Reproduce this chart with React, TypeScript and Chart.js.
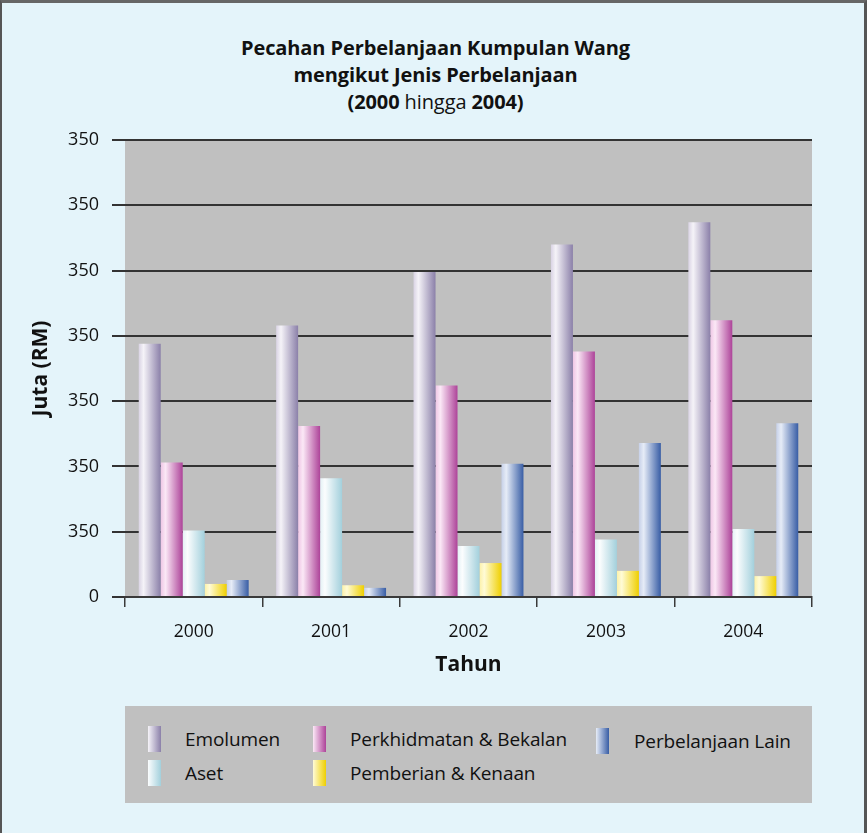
import React, { useEffect, useRef } from "react";
import { Chart, registerables } from "chart.js";

Chart.register(...registerables);

const categories = ["2000", "2001", "2002", "2003", "2004"];
const yTickLabels = ["0", "350", "350", "350", "350", "350", "350", "350"];

const seriesNames = [
  "Emolumen",
  "Perkhidmatan & Bekalan",
  "Aset",
  "Pemberian & Kenaan",
  "Perbelanjaan Lain",
];

const emolumen = [194, 208, 249, 270, 287];
const perkhidmatan = [103, 131, 162, 188, 212];
const aset = [51, 91, 39, 44, 52];
const pemberian = [10, 9, 26, 20, 16];
const perbelanjaanLain = [13, 7, 102, 118, 133];

// gradient stops: left edge, highlight, right edge
const gradients = [
  ["#d9d3e4", "#f5f3f8", "#8b80a9"],
  ["#efc6e5", "#fbe8f6", "#ad4399"],
  ["#e3f1f5", "#fbfdfe", "#a3d0dc"],
  ["#fcf1a8", "#fffbd6", "#efcf00"],
  ["#c6d0e8", "#e6ecf7", "#385da5"],
];

const FONT = "'Open Sans', 'DejaVu Sans', sans-serif";

const makeBg = (stops: string[]) => (context: any) => {
  const chart = context.chart;
  const { ctx, chartArea, scales } = chart;
  if (!chartArea || !scales.x || context.type !== "data") return stops[2];
  const xs = scales.x;
  const n = categories.length;
  const catW = (xs.right - xs.left) / n;
  const center = xs.getPixelForValue(context.dataIndex);
  const barW = (catW * 0.8) / seriesNames.length;
  const left = center - catW * 0.4 + context.datasetIndex * barW;
  if (!isFinite(left) || barW <= 0) return stops[2];
  const g = ctx.createLinearGradient(left, 0, left + barW, 0);
  g.addColorStop(0, stops[0]);
  g.addColorStop(0.22, stops[1]);
  g.addColorStop(1, stops[2]);
  return g;
};

const plotBg = {
  id: "plotBg",
  beforeDraw(chart: any) {
    const { ctx, chartArea } = chart;
    if (!chartArea) return;
    ctx.save();
    ctx.fillStyle = "#c0c0c0";
    ctx.fillRect(
      chartArea.left,
      chartArea.top,
      chartArea.right - chartArea.left,
      chartArea.bottom - chartArea.top
    );
    ctx.restore();
  },
};

export default function App() {
  const canvasRef = useRef<HTMLCanvasElement | null>(null);

  useEffect(() => {
    if (!canvasRef.current) return;
    const seriesData = [emolumen, perkhidmatan, aset, pemberian, perbelanjaanLain];
    const chart = new Chart(canvasRef.current, {
      type: "bar",
      data: {
        labels: categories,
        datasets: seriesNames.map((name, i) => ({
          label: name,
          data: seriesData[i],
          backgroundColor: makeBg(gradients[i]),
          borderWidth: 0,
          categoryPercentage: 0.8,
          barPercentage: 1.0,
        })),
      },
      options: {
        animation: false,
        responsive: false,
        maintainAspectRatio: false,
        layout: { padding: { left: 0, top: 140, right: 55, bottom: 0 } },
        plugins: {
          legend: { display: false },
          title: { display: false },
          tooltip: { enabled: false },
        },
        scales: {
          x: {
            afterFit: (s: any) => {
              s.height = 93;
            },
            grid: {
              offset: true,
              drawOnChartArea: false,
              drawTicks: true,
              tickLength: 10,
              color: "#3a3a3a",
              lineWidth: 1.5,
            },
            border: { display: true, color: "#3a3a3a", width: 2 },
            ticks: {
              color: "#111",
              font: { family: FONT, size: 17.5 },
              padding: 15,
            },
            title: {
              display: true,
              text: "Tahun",
              color: "#111",
              font: { family: FONT, size: 21, weight: "bold" },
              padding: { top: 0, bottom: 12 },
            },
          },
          y: {
            min: 0,
            max: 350,
            afterFit: (s: any) => {
              s.width = 125;
            },
            ticks: {
              stepSize: 50,
              color: "#111",
              font: { family: FONT, size: 18 },
              padding: 13,
              callback: (_v: any, i: number) => yTickLabels[i],
            },
            grid: {
              color: "#333333",
              lineWidth: 2,
              drawTicks: true,
              tickLength: 13,
            },
            border: { display: false },
            title: {
              display: true,
              text: "Juta (RM)",
              color: "#111",
              font: { family: FONT, size: 21, weight: "bold" },
              padding: { top: 28, bottom: 0 },
            },
          },
        },
      },
      plugins: [plotBg],
    });
    return () => chart.destroy();
  }, []);

  const legendCols = [
    { swatch: 23, text: 60 },
    { swatch: 188, text: 225 },
    { swatch: 471, text: 509 },
  ];
  const legendLayout = [
    { idx: 0, col: 0, row: 0 },
    { idx: 1, col: 1, row: 0 },
    { idx: 4, col: 2, row: 0 },
    { idx: 2, col: 0, row: 1 },
    { idx: 3, col: 1, row: 1 },
  ];
  const rowCenters = [33, 67];

  return (
    <div
      style={{
        position: "absolute",
        left: 0,
        top: 0,
        width: 867,
        height: 833,
        background: "#e4f4fa",
        boxSizing: "border-box",
        borderLeft: "2px solid #555",
        borderTop: "3px solid #666",
        borderRight: "3px solid #555",
        overflow: "hidden",
        fontFamily: FONT,
      }}
    >
      <div
        style={{
          position: "absolute",
          left: 0,
          top: 31,
          width: 867,
          textAlign: "center",
          fontSize: 20,
          lineHeight: "27px",
          fontWeight: "bold",
          color: "#111",
          letterSpacing: -0.1,
        }}
      >
        <div>Pecahan Perbelanjaan Kumpulan Wang</div>
        <div>mengikut Jenis Perbelanjaan</div>
        <div>
          (2000 <span style={{ fontWeight: "normal" }}>hingga</span> 2004)
        </div>
      </div>
      <canvas
        ref={canvasRef}
        width={867}
        height={690}
        style={{ position: "absolute", left: -2, top: -3, width: 867, height: 690 }}
      />
      <div
        style={{
          position: "absolute",
          left: 123,
          top: 703,
          width: 687,
          height: 97,
          background: "#c0c0c0",
        }}
      >
        {legendLayout.map((it) => {
          const g = gradients[it.idx];
          const c = legendCols[it.col];
          const cy = rowCenters[it.row] + (it.col === 2 ? 2 : 0);
          return (
            <React.Fragment key={it.idx}>
              <div
                style={{
                  position: "absolute",
                  left: c.swatch,
                  top: cy - 13,
                  width: 13,
                  height: 26,
                  background: `linear-gradient(to right, ${g[1]}, ${g[2]})`,
                }}
              />
              <div
                style={{
                  position: "absolute",
                  left: c.text,
                  top: cy - 13,
                  height: 26,
                  lineHeight: "26px",
                  fontSize: 19,
                  color: "#111",
                  whiteSpace: "nowrap",
                  letterSpacing: -0.1,
                }}
              >
                {seriesNames[it.idx]}
              </div>
            </React.Fragment>
          );
        })}
      </div>
    </div>
  );
}
